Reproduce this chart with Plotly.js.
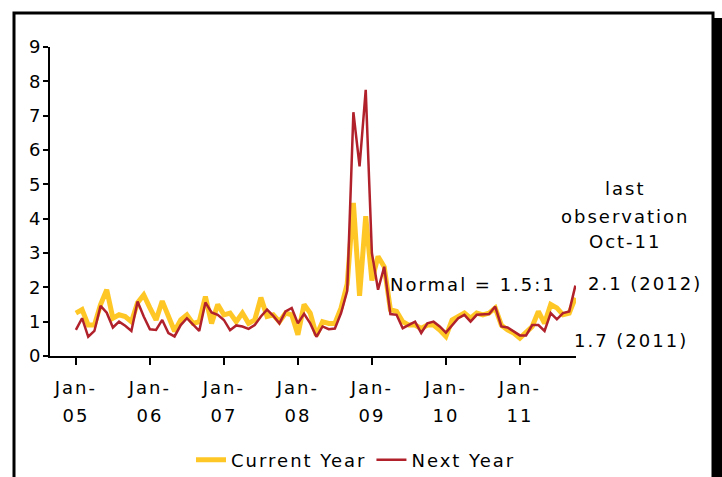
<!DOCTYPE html>
<html>
<head>
<meta charset="utf-8">
<script src="https://cdn.plot.ly/plotly-3.0.1.min.js"></script>
<style>
html,body{margin:0;padding:0;background:#fff;}
#chart{width:722px;height:477px;}
text{letter-spacing:2px;}
</style>
</head>
<body>
<div id="chart"></div>
<script>
// Monthly observations, Jan-05 .. Oct-11 (82 months)
var monthIndex = [];
for (var i = 0; i < 82; i++) monthIndex.push(i);

var currentYear = [
  1.25,1.35,0.9,0.9,1.5,1.93,1.1,1.2,1.15,1.0,1.55,1.78,
  1.4,1.05,1.6,1.2,0.72,1.05,1.2,0.95,1.0,1.73,0.95,1.5,
  1.2,1.25,1.0,1.25,0.95,1.05,1.7,1.15,1.2,1.0,1.25,1.2,
  0.62,1.5,1.25,0.6,1.0,0.95,0.95,1.4,2.1,4.46,1.75,4.07,
  2.2,2.9,2.6,1.35,1.3,1.0,0.9,0.9,0.8,0.9,0.9,0.76,
  0.57,1.05,1.15,1.25,1.1,1.25,1.2,1.25,1.4,0.9,0.76,0.67,
  0.52,0.71,0.86,1.3,0.95,1.5,1.4,1.2,1.25,1.7
];
var nextYear = [
  0.76,1.1,0.56,0.73,1.46,1.26,0.83,1.0,0.88,0.73,1.59,1.15,
  0.78,0.76,1.05,0.67,0.57,0.9,1.1,0.9,0.73,1.56,1.27,1.2,
  1.05,0.75,0.89,0.86,0.79,0.9,1.15,1.35,1.17,0.95,1.3,1.4,
  0.95,1.23,0.95,0.56,0.86,0.78,0.8,1.25,1.9,7.1,5.52,7.75,
  3.0,1.93,2.6,1.22,1.2,0.81,0.9,1.0,0.67,0.95,1.0,0.86,
  0.68,0.9,1.1,1.2,1.0,1.2,1.2,1.22,1.44,0.86,0.83,0.71,
  0.6,0.6,0.9,0.9,0.73,1.25,1.07,1.25,1.3,2.05
];
var xTickVals = [0,12,24,36,48,60,72];
var xTickMonth = ["Jan-","Jan-","Jan-","Jan-","Jan-","Jan-","Jan-"];
var xTickYear = ["05","06","07","08","09","10","11"];
var yTickVals = [0,1,2,3,4,5,6,7,8,9];
var noteLines = ["last", "observation", "Oct-11"];

var F = "DejaVu Sans, Verdana, sans-serif";
var FS = 18;
var L = 50, R = 146, T = 47, B = 121, W = 722, H = 477;
var pw = W - L - R, ph = H - T - B;
function px(x){ return (x - L) / pw; }
function py(y){ return (H - B - y) / ph; }
function fnt(){ return {family: F, size: FS, color: '#000'}; }

var traces = [
  {x: monthIndex, y: currentYear, type: 'scatter', mode: 'lines', name: 'Current Year',
   line: {color: '#FFC726', width: 5}},
  {x: monthIndex, y: nextYear, type: 'scatter', mode: 'lines', name: 'Next Year',
   line: {color: '#B0212B', width: 2.5}},
  // empty carrier trace so the second (year-label) x axis gets drawn
  {x: xTickVals, y: xTickVals.map(function(){ return null; }), xaxis: 'x2', yaxis: 'y',
   type: 'scatter', mode: 'lines', showlegend: false, hoverinfo: 'skip',
   line: {width: 0, color: 'rgba(0,0,0,0)'}}
];

var xr = [-4.2, 81.1];
var annotations = [
  {xref: 'paper', yref: 'paper', x: px(388), y: py(284), xanchor: 'left', yanchor: 'middle',
   text: 'Normal = 1.5:1', showarrow: false, font: fnt()},
  {xref: 'paper', yref: 'paper', x: px(586), y: py(283), xanchor: 'left', yanchor: 'middle',
   text: '2.1 (2012)', showarrow: false, font: fnt()},
  {xref: 'paper', yref: 'paper', x: px(572), y: py(340), xanchor: 'left', yanchor: 'middle',
   text: '1.7 (2011)', showarrow: false, font: fnt()}
];
var noteY = [188, 216, 242];
noteLines.forEach(function(t, k){
  annotations.push({xref: 'paper', yref: 'paper', x: px(625), y: py(noteY[k]), xanchor: 'center',
    yanchor: 'middle', text: t, showarrow: false, font: fnt()});
});

var layout = {
  width: W, height: H,
  margin: {l: L, r: R, t: T, b: B, autoexpand: false},
  paper_bgcolor: '#fff', plot_bgcolor: '#fff',
  font: fnt(),
  showlegend: true,
  legend: {orientation: 'h', x: px(356), xanchor: 'center', y: py(460), yanchor: 'middle',
           font: fnt(), tracegroupgap: 0},
  xaxis: {range: xr, tickmode: 'array', tickvals: xTickVals, ticktext: xTickMonth,
          showgrid: false, zeroline: false, showline: true, linecolor: '#000', linewidth: 2,
          ticks: 'outside', ticklen: 7, tickwidth: 2, tickcolor: '#000',
          ticklabelstandoff: 7, tickfont: fnt()},
  xaxis2: {range: xr, overlaying: 'x', anchor: 'y', side: 'bottom', tickmode: 'array',
           tickvals: xTickVals, ticktext: xTickYear, showgrid: false, zeroline: false,
           showline: false, ticks: '', ticklabelstandoff: 47, tickfont: fnt()},
  yaxis: {range: [0, 9], tickmode: 'array', tickvals: yTickVals,
          showgrid: false, zeroline: false, showline: true, linecolor: '#000', linewidth: 2,
          ticks: 'outside', ticklen: 5, tickwidth: 2, tickcolor: '#000',
          ticklabelstandoff: -3, tickfont: fnt()},
  annotations: annotations,
  shapes: [
    {type: 'rect', xref: 'paper', yref: 'paper', x0: px(14), x1: px(713), y0: py(490), y1: py(13),
     line: {color: '#000', width: 3}, fillcolor: 'rgba(0,0,0,0)'},
    {type: 'rect', xref: 'paper', yref: 'paper', x0: px(712), x1: px(724), y0: py(490), y1: py(18),
     line: {width: 0}, fillcolor: '#000'}
  ]
};

Plotly.newPlot('chart', traces, layout, {displayModeBar: false, staticPlot: true});
</script>
</body>
</html>
